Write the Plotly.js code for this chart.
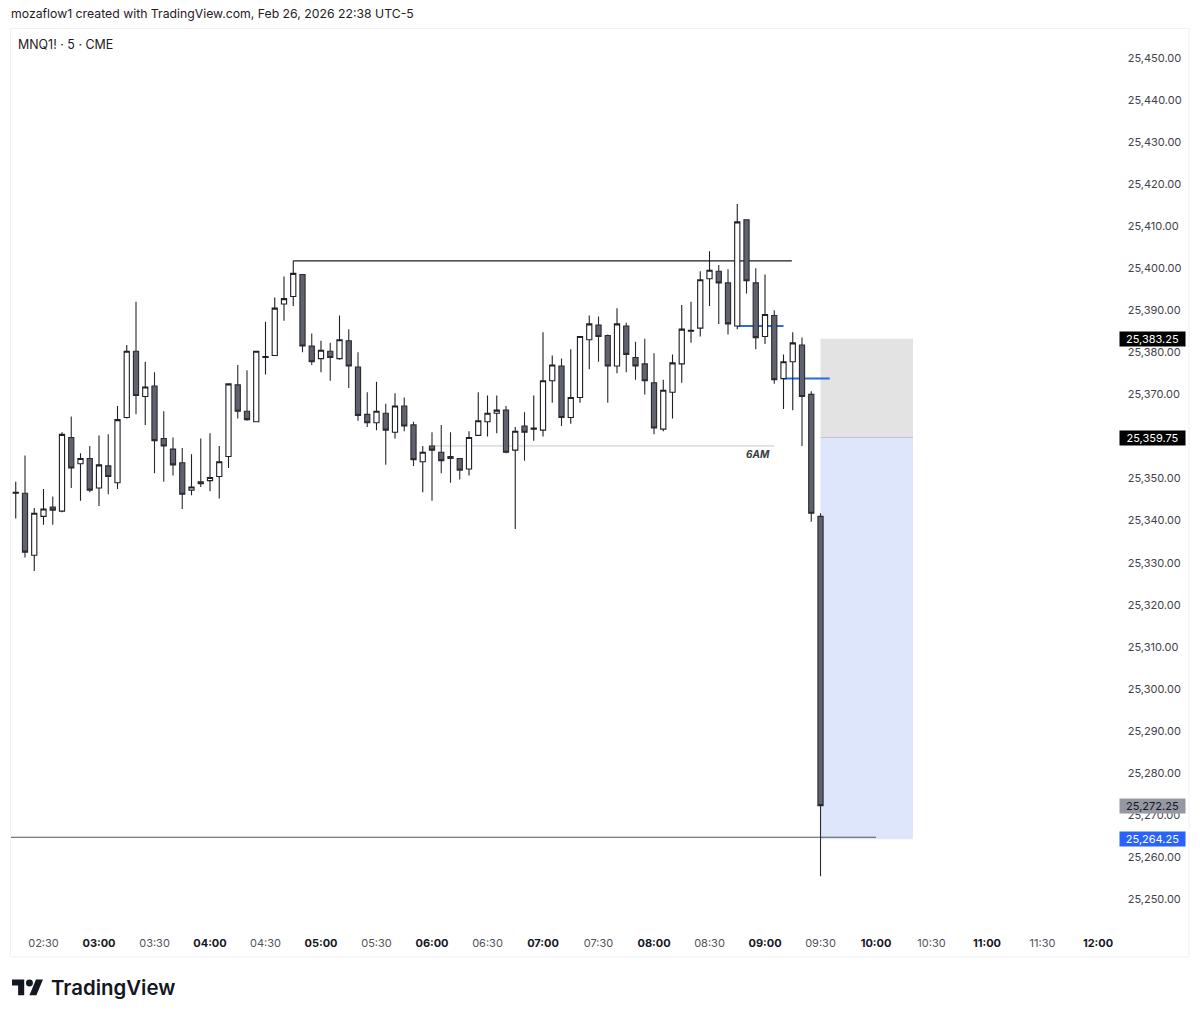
<!DOCTYPE html>
<html>
<head>
<meta charset="utf-8">
<script src="https://cdn.plot.ly/plotly-3.0.1.min.js"></script>
<style>
  html, body { margin: 0; padding: 0; background: #fff; overflow: hidden; }
  #chart { width: 1200px; height: 1019px; }
  #logo { position: absolute; left: 12.3px; top: 976.4px; width: 31.4px; height: 24.4px; }
</style>
</head>
<body>
<div id="chart"></div>
<svg id="logo" viewBox="0 0 36 28"><path fill="#131722" d="M14 22H7V11H0V4h14v18zM28 22h-8l7.5-18h8L28 22z"/><circle fill="#131722" cx="20" cy="8" r="4"/></svg>
<script>
var times = [
  '02:15','02:20','02:25','02:30','02:35','02:40','02:45','02:50','02:55',
  '03:00','03:05','03:10','03:15','03:20','03:25','03:30','03:35','03:40','03:45','03:50','03:55',
  '04:00','04:05','04:10','04:15','04:20','04:25','04:30','04:35','04:40','04:45','04:50','04:55',
  '05:00','05:05','05:10','05:15','05:20','05:25','05:30','05:35','05:40','05:45','05:50','05:55',
  '06:00','06:05','06:10','06:15','06:20','06:25','06:30','06:35','06:40','06:45','06:50','06:55',
  '07:00','07:05','07:10','07:15','07:20','07:25','07:30','07:35','07:40','07:45','07:50','07:55',
  '08:00','08:05','08:10','08:15','08:20','08:25','08:30','08:35','08:40','08:45','08:50','08:55',
  '09:00','09:05','09:10','09:15','09:20','09:25','09:30'
];
var opens = [
  25346.5,25346.5,25331.75,25341,25343.25,25342.25,25359.75,25353.5,25354.75,
  25347.75,25353,25349,25364.5,25380.25,25369.5,25372,25359.5,25357,25353.75,25347.25,25349.25,
  25349.5,25350.5,25355.25,25372.25,25366,25363.5,25378.75,25379.25,25391.5,25393.25,25398.5,25381.5,
  25378.5,25380.25,25378.5,25382.75,25376.5,25365.25,25363.25,25365.5,25361,25367.25,25362.75,25354,
  25357.75,25356.25,25355.25,25354.75,25352.25,25360.25,25363.5,25365.5,25366.25,25356.75,25362.5,25361.75,
  25361.5,25373.25,25376.75,25364.5,25369.25,25383,25386.5,25384,25376.75,25386.25,25378.75,25377.25,
  25372.75,25361.75,25370.5,25377.25,25385,25385.75,25397.5,25399.25,25396.5,25386.25,25411.5,25396.5,
  25383.75,25388.75,25373.75,25377.75,25381.75,25370,25341
];
var highs = [
  25349.25,25355.5,25343,25347.5,25345.75,25361,25364.75,25356,25357.75,
  25360.25,25360.5,25367.25,25381.75,25392,25377.75,25375.25,25366,25359.75,25357.25,25355.75,25359.5,
  25360.75,25357.75,25372.5,25377,25375.75,25380.25,25387.25,25393,25398,25401.75,25398.5,25384.5,
  25382.75,25382.25,25388.75,25385.5,25380,25370.5,25373,25367.75,25370.25,25369.25,25363.5,25357.75,
  25361,25362.75,25361,25354.75,25361.25,25370.5,25369.75,25369.75,25367.25,25362.25,25365.75,25369.75,
  25384.75,25379.25,25378.5,25380.75,25383.75,25388.75,25388.5,25384.25,25390.5,25387,25382.5,25383.25,
  25379.75,25373.5,25379.5,25391.25,25392,25399.25,25404,25400.75,25399.75,25415.25,25411.5,25400,
  25398.5,25390,25379.5,25384.75,25383.5,25370.75,25341.75
];
var lows = [
  25340.5,25331.25,25328,25339,25339,25342,25347.75,25344.75,25346.75,
  25343.5,25346.25,25347.5,25364.25,25365.25,25362.75,25351.25,25349.25,25350.75,25342.75,25346,25348,
  25347,25345.25,25352.5,25364.25,25363.75,25363.5,25374.75,25379.25,25387.5,25391,25380,25377,
  25375.25,25373.25,25378.25,25371.5,25363.75,25362.25,25361.5,25353.25,25359.5,25361.25,25353,25346.75,
  25344.75,25351.25,25349,25349.75,25350.75,25360.25,25360,25360.75,25356,25338,25354.25,25359,
  25360,25368,25362.5,25363,25368,25376,25377.75,25368,25375,25375.25,25373.5,25370,
  25360.5,25361.25,25364.25,25372.75,25382.25,25383.75,25391,25386.75,25384.25,25385.5,25394,25380.75,
  25382,25372.5,25366.5,25366.25,25357.75,25339.75,25255.5
];
var closes = [
  25346.75,25332.5,25341.75,25342.75,25342.5,25360.5,25352.5,25354.75,25347.25,
  25353.25,25350.5,25364,25380.25,25369.75,25371.75,25359,25357.75,25353.25,25346.25,25348,25348.75,
  25350.25,25354,25372.5,25366,25364,25380.25,25379,25390.5,25392.75,25398.75,25381.5,25377.75,
  25380.5,25378.75,25383,25376.75,25365,25363.25,25366,25361.5,25367.25,25362.5,25354.5,25356.25,
  25356.75,25354.25,25354.75,25352,25359.75,25363.75,25365.5,25366.25,25356.25,25361.25,25361,25362,
  25373.25,25377,25364.5,25369.25,25383.75,25386.75,25383.75,25376.75,25386.75,25379.5,25376.75,25373.25,
  25362,25371,25377.5,25385.5,25385.25,25397.25,25399.5,25396.5,25386.75,25411,25397,25383.5,
  25389,25373.5,25377.75,25382.25,25369.5,25341.75,25272.25
];
var tickTimes = ['02:30','03:00','03:30','04:00','04:30','05:00','05:30','06:00','06:30','07:00','07:30','08:00','08:30','09:00','09:30','10:00','10:30','11:00','11:30','12:00'];
var hourStyle = '<span style="color:#131722"><b>';
var tickLabels = tickTimes.map(function(t) {
  return t.slice(3) === '00' ? hourStyle + t + '</b></span>' : t;
});
// 25,360.00 sits fully under the entry tag in the reference, so it is left out
var priceTicks = [25250,25260,25270,25280,25290,25300,25310,25320,25330,25340,25350,25370,25380,25390,25400,25410,25420,25430,25440,25450];

var stopPrice = 25383.25, entryPrice = 25359.75, targetPrice = 25264.25, lastPrice = 25272.25;
var highLevel = 25401.75, sixAmLevel = 25357.75, lowLevel = 25264.75, blueLevels = [25386.25, 25373.75];

function day(t) { return '2026-02-26 ' + t; }
function fmt(v) { return v.toLocaleString('en-US', {minimumFractionDigits: 2}); }

var candles = {
  type: 'candlestick',
  x: times.map(day),
  open: opens, high: highs, low: lows, close: closes,
  whiskerwidth: 0,
  hoverinfo: 'skip',
  increasing: {line: {color: '#1f2025', width: 1.1}, fillcolor: '#ffffff'},
  decreasing: {line: {color: '#2a2b31', width: 1.1}, fillcolor: '#60636e'}
};

function hline(x0, x1, y, color, width) {
  return {type: 'line', layer: 'below', xref: 'x', yref: 'y', x0: x0, x1: x1, y0: y, y1: y, line: {color: color, width: width}};
}
function box(x0, x1, y0, y1, color) {
  return {type: 'rect', layer: 'below', xref: 'x', yref: 'y', x0: x0, x1: x1, y0: y0, y1: y1, fillcolor: color, line: {width: 0}};
}
function tag(v, bg, fg) {
  return {xref: 'paper', yref: 'y', x: 1.0279, y: v, xanchor: 'center', text: fmt(v), showarrow: false, bgcolor: bg, width: 65, height: 14, borderpad: 0,
          font: {family: 'Inter, sans-serif', size: 11, color: fg}};
}
function note(x, y, text, size, color, extra) {
  return Object.assign({xref: 'paper', yref: 'paper', x: x, y: y, text: text, showarrow: false, xanchor: 'left', yanchor: 'middle',
          font: {family: 'Inter, sans-serif', size: size, color: color}}, extra || {});
}

// pixel -> paper helpers for text outside the axes
var W = 1200, H = 1019, mL = 11, mR = 78, mT = 28, mB = 89;
function px(x) { return (x - mL) / (W - mL - mR); }
function py(y) { return 1 - (y - mT) / (H - mT - mB); }

var layout = {
  width: W, height: H,
  margin: {l: mL, r: mR, t: mT, b: mB, pad: 0},
  paper_bgcolor: '#ffffff', plot_bgcolor: '#ffffff',
  showlegend: false,
  boxgap: 0.2,
  font: {family: 'Inter, sans-serif', color: '#3f424a'},
  xaxis: {
    type: 'date',
    range: ['2026-02-26 02:12:26', '2026-02-26 12:12:58'],
    rangeslider: {visible: false},
    tickmode: 'array',
    tickvals: tickTimes.map(day),
    ticktext: tickLabels,
    tickangle: 0,
    ticks: 'outside', ticklen: 3, tickcolor: 'rgba(0,0,0,0)',
    showgrid: false, zeroline: false, showline: false,
    tickfont: {family: 'Inter, sans-serif', size: 11, color: '#50535b'}
  },
  yaxis: {
    side: 'right',
    range: [25242.7, 25457.08],
    tickmode: 'array',
    tickvals: priceTicks,
    tickformat: ',.2f',
    ticks: 'outside', ticklen: 2.5, tickcolor: 'rgba(0,0,0,0)',
    showgrid: false, zeroline: false, showline: false,
    tickfont: {family: 'Inter, sans-serif', size: 11, color: '#3f424a'}
  },
  shapes: [
    box(day('09:30'), day('10:20'), entryPrice, stopPrice, '#e3e3e3'),
    box(day('09:30'), day('10:20'), targetPrice, entryPrice, '#dee6fb'),
    hline(day('09:30'), day('10:20'), entryPrice, '#c4c4c8', 1),
    hline(day('04:45'), day('09:14:30'), highLevel, '#1b1c20', 1.3),
    hline(day('06:00'), day('09:05'), sixAmLevel, '#c8c8cc', 1),
    hline(day('08:45'), day('09:10'), blueLevels[0], '#2b6be0', 2),
    hline(day('09:10'), day('09:35'), blueLevels[1], '#2b6be0', 2),
    hline('2026-02-26 02:12:26', day('10:00'), lowLevel, '#55575e', 1.2),
    {type: 'rect', layer: 'below', xref: 'paper', yref: 'paper', x0: px(10.5), x1: px(1189), y0: py(28.5), y1: py(957),
     fillcolor: 'rgba(0,0,0,0)', line: {color: '#f0f1f5', width: 1}}
  ],
  annotations: [
    note(px(9), py(13), 'mozaflow1 created with TradingView.com, Feb 26, 2026 22:38 UTC-5', 12.25, '#1f2025'),
    note(px(16), py(44.5), 'MNQ1! · 5 · CME', 12.45, '#1f2025'),
    note(px(744), py(454), '<b><i>6AM</i></b>', 10, '#3a3b42'),
    note(px(49), py(988), 'TradingView', 20.4, '#131722', {font: {family: 'Inter, sans-serif', size: 20.4, color: '#131722', weight: 600}}),
    tag(stopPrice, '#000000', '#ffffff'),
    tag(entryPrice, '#000000', '#ffffff'),
    tag(lastPrice, '#9598a1', '#131722'),
    tag(targetPrice, '#2962ff', '#ffffff')
  ]
};

Plotly.newPlot('chart', [candles], layout, {displayModeBar: false, staticPlot: true});
</script>
</body>
</html>
